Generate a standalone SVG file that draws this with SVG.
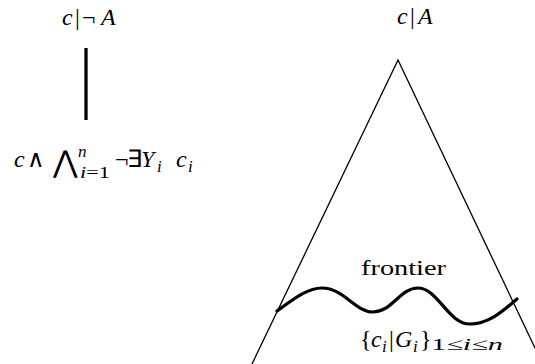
<svg xmlns="http://www.w3.org/2000/svg" width="535" height="364" viewBox="0 0 535 364">
<style>
text{font-family:"Liberation Serif","Times New Roman",serif;fill:#000}
.i{font-style:italic}
.m{font-size:24px}
.s{font-size:17px}
.ln{stroke:#000;fill:none}
</style>
<rect width="535" height="364" fill="#fff"/>
<g id="node-left-top">
<text class="m" y="25"><tspan class="i" x="62">c</tspan><tspan x="75">|</tspan><tspan x="82">¬</tspan><tspan class="i" x="101">A</tspan></text>
</g>
<g id="node-left-bottom">
<text class="m" y="167"><tspan class="i" x="14">c</tspan><tspan x="27">∧</tspan></text>
<text x="53" y="172" style="font-size:30px">⋀</text>
<text class="s i" x="78" y="157">n</text>
<text class="s" y="178" textLength="30" lengthAdjust="spacingAndGlyphs"><tspan class="i" x="80">i</tspan>=1</text>
<text class="m" y="167"><tspan x="115">¬</tspan><tspan x="127">∃</tspan><tspan class="i" x="141">Y</tspan><tspan class="i" x="176">c</tspan></text>
<text class="s i" y="172"><tspan x="157">i</tspan><tspan x="188">i</tspan></text>
</g>
<g id="node-right-top">
<text class="m" y="24"><tspan class="i" x="397">c</tspan><tspan x="410">|</tspan><tspan class="i" x="418">A</tspan></text>
</g>
<g id="node-tree">
<polyline class="ln" stroke-width="1.3" points="252,364 398,60 536,350"/>
<path class="ln" stroke-width="3.2" stroke-linecap="round" d="M277,311 C295,298 308,288 322,288 C344,288 355,312 373,312 C392,312 400,288 418,288 C438,288 448,324 470,324 C490,324 505,309 517,299"/>
<text x="361" y="275" style="font-size:21px" textLength="85" lengthAdjust="spacingAndGlyphs">frontier</text>
<text class="m" y="347"><tspan x="360">{</tspan><tspan class="i" x="371">c</tspan><tspan x="389">|</tspan><tspan class="i" x="395">G</tspan><tspan x="420">}</tspan></text>
<text class="s i" y="352"><tspan x="382">i</tspan><tspan x="413">i</tspan></text>
<text class="s" x="431" y="350" textLength="72" lengthAdjust="spacingAndGlyphs">1≤<tspan class="i">i</tspan>≤<tspan class="i">n</tspan></text>
</g>
<g id="connectors">
<line class="ln" x1="86" y1="48" x2="86" y2="120" stroke-width="3.3"/>
</g>
</svg>
